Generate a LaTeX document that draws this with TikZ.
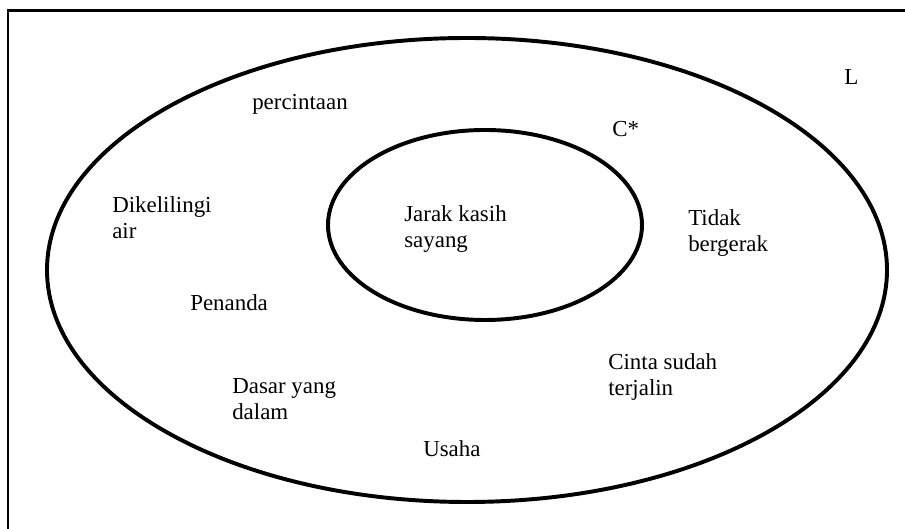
\documentclass[tikz,border=0pt]{standalone}
\usepackage{fontspec}
\setmainfont{Liberation Serif}
\usepackage{tikz}
\usetikzlibrary{shapes,positioning,calc}

\begin{document}
\begin{tikzpicture}[
    ring/.style = {ellipse, draw, line width=2.8pt, inner sep=0pt},
    lbl/.style = {anchor=base west, inner sep=0pt, align=left, font=\rmfamily\fontsize{16.3}{18.6}\selectfont}
]
    \useasboundingbox (0,0) rectangle (22.625,13.225);

    % Frame (top and left only)
    \coordinate (topleft) at (0.2,12.96);
    \coordinate (topright) at (22.625,12.96);
    \coordinate (bottomleft) at (0.2,0);
    \draw[line width=1.7pt] (bottomleft) -- (topleft) -- (topright);

    % Outer and inner ellipse
    \node[ring, minimum width=21cm, minimum height=11.6cm] (outer) at (11.675,6.475) {};
    \node[ring, minimum width=7.85cm, minimum height=4.75cm] (inner) at (12.125,7.6) {};

    % Labels (base = last line)
    \node[lbl] (lbl-L) at (21.1,11.1) {L};
    \node[lbl] (lbl-C) at (15.3,9.8) {C*};
    \node[lbl] (percintaan) at (6.3,10.475) {percintaan};
    \node[lbl] (dikelilingi) at (2.8,7.25) {Dikelilingi\\air};
    \node[lbl] (penanda) at (4.75,5.45) {Penanda};
    \node[lbl] (jarak) at (10.1,7.025) {Jarak kasih\\sayang};
    \node[lbl] (tidak) at (17.2,6.925) {Tidak\\bergerak};
    \node[lbl] (cinta) at (15.2,3.325) {Cinta sudah\\terjalin};
    \node[lbl] (dasar) at (5.8,2.725) {Dasar yang\\dalam};
    \node[lbl] (usaha) at (10.575,1.8) {Usaha};

\end{tikzpicture}
\end{document}
